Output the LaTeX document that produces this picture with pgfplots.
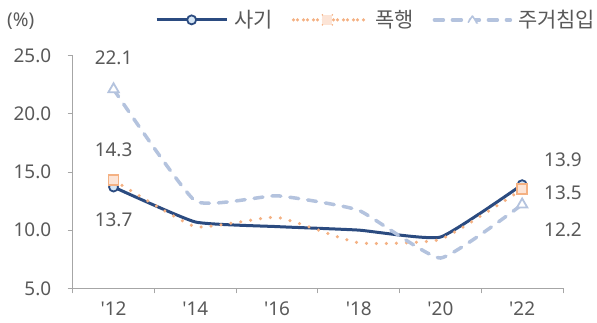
\documentclass[border=0pt]{standalone}
\usepackage{fontspec}
\usepackage{pgfplots}
\pgfplotsset{compat=1.18}
\newfontfamily\numfont{Noto Sans}
\newfontfamily\kofont{Noto Sans CJK KR}
\definecolor{sagi}{HTML}{2B4B80}
\definecolor{sagifill}{HTML}{D6E6F5}
\definecolor{pok}{HTML}{F4B183}
\definecolor{pokfill}{HTML}{FCE4D6}
\definecolor{ju}{HTML}{B4C3DE}
\definecolor{txt}{HTML}{595959}
\definecolor{axisgray}{HTML}{A6A6A6}
\pgfplotstableread{
x sagi pok ju
0 13.7 14.3 22.1
1 10.7 10.3 12.5
2 10.3 11.1 12.95
3 10.0 8.9 11.7
4 9.4 9.2 7.6
5 13.9 13.5 12.2
}\datatable
\begin{document}
\begin{tikzpicture}
\useasboundingbox (-72.7bp,-34.7bp) rectangle (524.3bp,288.3bp);
\begin{axis}[
  scale only axis, width=490.3bp, height=232.8bp,
  xmin=-0.5, xmax=5.5, ymin=5, ymax=25,
  clip=false,
  axis x line*=bottom, axis y line*=left,
  axis line style={axisgray, line width=0.8bp, -},
  tick align=outside,
  major tick length=5bp, minor tick length=5bp,
  tick style={axisgray, line width=0.8bp},
  ytick={5,10,15,20,25},
  yticklabels={5.0,10.0,15.0,20.0,25.0},
  xtick={0,1,2,3,4,5},
  xticklabels={'12,'14,'16,'18,'20,'22},
  major x tick style={draw=none},
  minor xtick={-0.5,0.5,1.5,2.5,3.5,4.5,5.5},
  /pgf/number format/assume math mode=true,
  ticklabel style={font=\numfont\fontsize{19}{21}\selectfont, text=txt},
  yticklabel style={xshift=-13bp},
  xticklabel style={yshift=-5bp},
  legend style={at={(rel axis cs:1.066,1.153)}, anchor=east, draw=none, fill=none,
    inner sep=0pt, nodes={inner xsep=0pt},
    font=\kofont\fontsize{21}{23}\selectfont, text=txt, legend columns=-1,
    /tikz/every odd column/.append style={column sep=6bp},
    /tikz/every even column/.append style={column sep=19bp}},
]
\addplot[sagi, line width=3bp, smooth, tension=0.25, mark=*, mark indices={1,6},
  mark size=4.5bp, mark options={fill=sagifill, line width=1.8bp},
  legend image code/.code={
    \draw[sagi, line width=3bp] (0bp,0bp) -- (70bp,0bp);
    \draw[sagi, line width=1.8bp, fill=sagifill] (35bp,0bp) circle (4.5bp);}]
  table[x=x, y=sagi] {\datatable};
\addlegendentry{사기}
\addplot[pok, line width=3.5bp, line cap=round, dash pattern=on 0bp off 10bp, smooth, tension=0.25,
  mark=square*, mark indices={1,6},
  mark size=5bp, mark options={solid, fill=pokfill, line width=1.8bp},
  legend image code/.code={
    \path (0bp,0bp) -- (74bp,0bp);
    \draw[pok, line width=3.5bp, line cap=round, dash pattern=on 0bp off 10bp] (4bp,0bp) -- (64bp,0bp);
    \draw[pok, line width=1.8bp, fill=pokfill] (29bp,-5bp) rectangle (39bp,5bp);}]
  table[x=x, y=pok] {\datatable};
\addlegendentry{폭행}
\addplot[ju, line width=3.5bp, line cap=round, dash pattern=on 9bp off 9bp, smooth, tension=0.25,
  mark=triangle*, mark indices={1,6},
  mark size=6bp, mark options={solid, fill=white, line width=1.8bp},
  legend image code/.code={
    \draw[ju, line width=3.5bp, line cap=round, dash pattern=on 9bp off 9bp] (2bp,0bp) -- (78bp,0bp);
    \draw[ju, line width=1.5bp, fill=white] (40bp,4bp) -- (44.5bp,-3bp) -- (35.5bp,-3bp) -- cycle;}]
  table[x=x, y=ju] {\datatable};
\addlegendentry{주거침입}
\begin{scope}[every node/.style={font=\numfont\fontsize{19}{21}\selectfont, text=txt}]
\node at (axis cs:0,24.8) {22.1};
\node at (axis cs:0,16.9) {14.3};
\node at (axis cs:0,10.9) {13.7};
\node at (axis cs:5.5,16.03) {13.9};
\node at (axis cs:5.5,13.2) {13.5};
\node at (axis cs:5.5,10.04) {12.2};
\node at (rel axis cs:-0.106,1.148) {(\%)};
\end{scope}
\end{axis}
\end{tikzpicture}
\end{document}
